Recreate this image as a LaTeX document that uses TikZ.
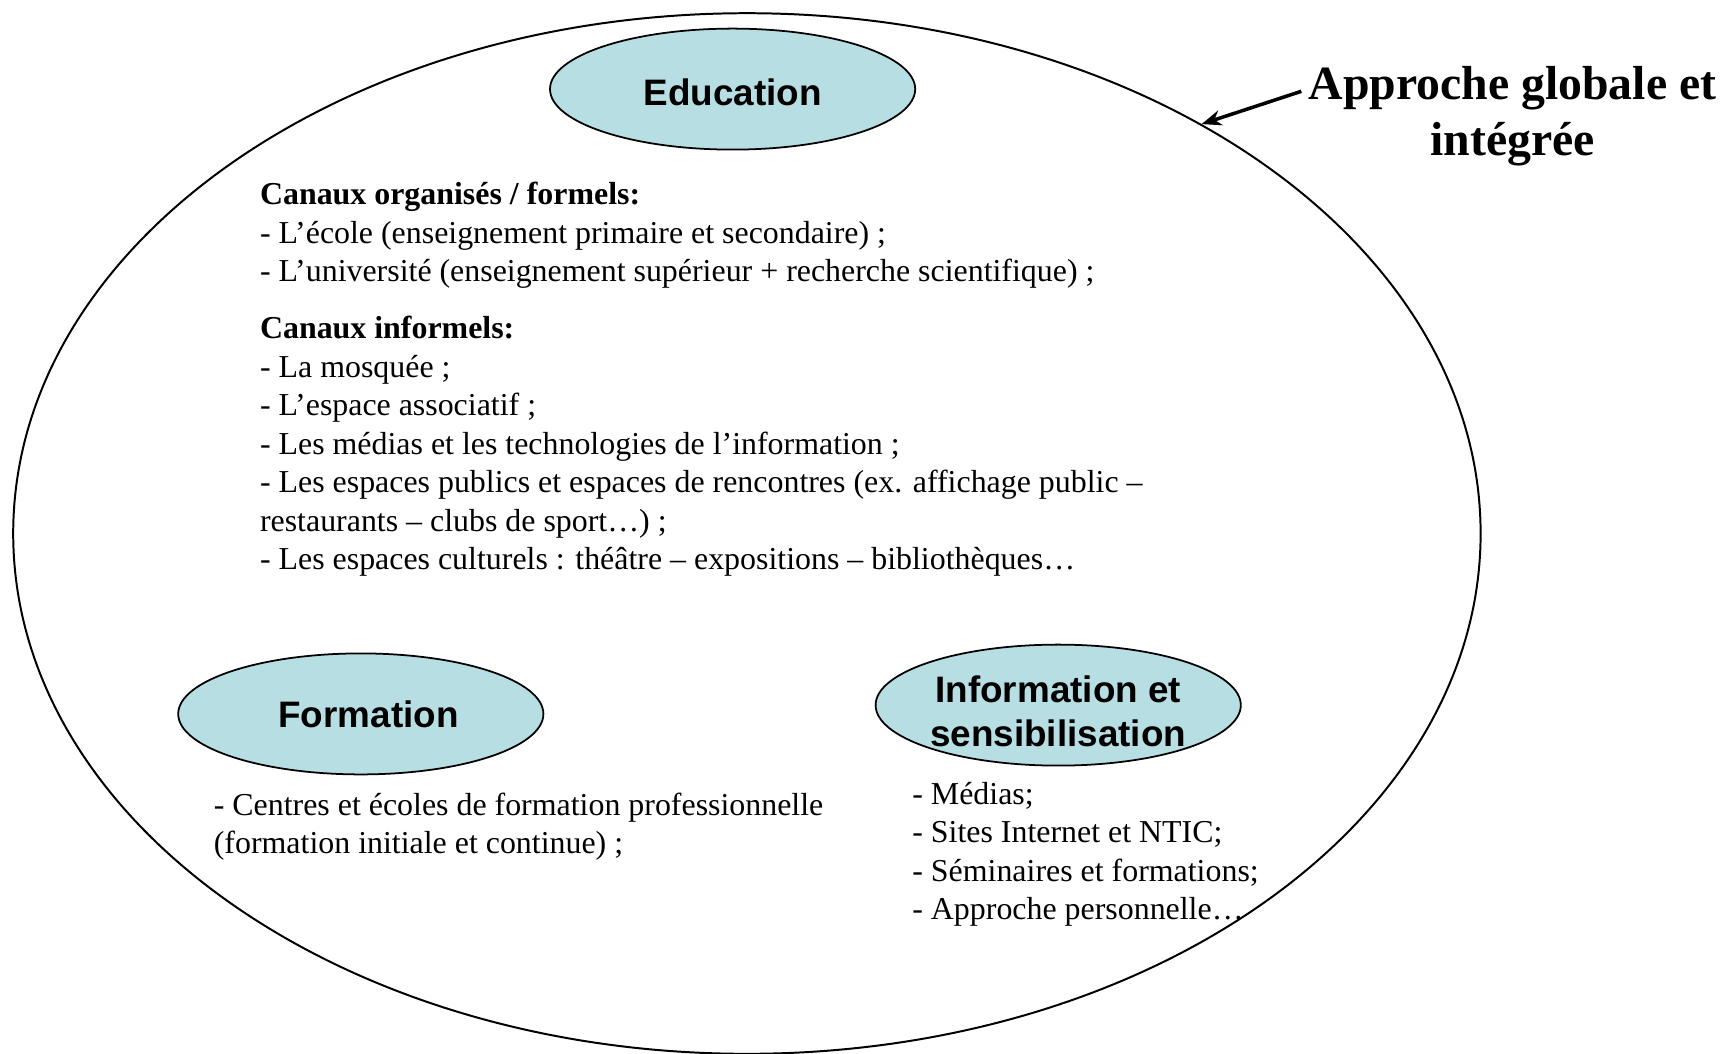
\documentclass[tikz,border=0pt]{standalone}
\usepackage{fontspec}
\setmainfont{Liberation Serif}
\newfontfamily\arialfont{Liberation Sans}
\usetikzlibrary{shapes.geometric,arrows.meta}
\definecolor{bubblefill}{RGB}{183,222,226}
\begin{document}
\begin{tikzpicture}[x=0.5pt,y=-0.5pt,
  outer/.style={draw, ellipse, line width=0.9pt, minimum width=667pt, minimum height=473pt, inner sep=0pt},
  bubble/.style={draw, ellipse, fill=bubblefill, line width=0.8pt, minimum width=166pt, minimum height=55pt, inner sep=0pt},
  btext/.style={font=\arialfont\bfseries\fontsize{16.75}{20}\selectfont, align=center, inner sep=0pt, anchor=base},
  body/.style={anchor=base west, inner sep=0pt, font=\fontsize{14.5}{17.5}\selectfont},
  bodyb/.style={anchor=base west, inner sep=0pt, font=\bfseries\fontsize{14.5}{17.5}\selectfont},
  titlestyle/.style={font=\bfseries\fontsize{21.7}{25.5}\selectfont, align=center, inner sep=0pt, anchor=base},
  pointer/.style={-{Stealth[length=9pt,width=7pt]}, line width=1.6pt},
]
\useasboundingbox (0,0) rectangle (1565.45,957.27);

% outer ellipse
\node[outer] (big) at (679,485) {};

% bubbles
\node[bubble] (edu) at (666,81) {};
\node[btext] (eduT) at (666,96) {Education};
\node[bubble] (form) at (328,649) {};
\node[btext] (formT) at (335,661) {Formation};
\node[bubble] (info) at (962,641) {};
\node[btext] (infoT) at (962,679) {Information et\\sensibilisation};

% Education text
\node[bodyb] (a1) at (236,186) {Canaux organisés / formels:};
\node[body] (a2) at (236,221) {- L’école (enseignement primaire et secondaire) ;};
\node[body] (a3) at (236,256) {- L’université (enseignement supérieur + recherche scientifique) ;};
\node[bodyb] (b1) at (236,308) {Canaux informels:};
\node[body] (b2) at (236,343) {- La mosquée ;};
\node[body] (b3) at (236,378) {- L’espace associatif ;};
\node[body] (b4) at (236,413) {- Les médias et les technologies de l’information ;};
\node[body] (b5) at (236,448) {- Les espaces publics et espaces de rencontres (ex. affichage public –};
\node[body] (b6) at (236,483) {restaurants – clubs de sport…) ;};
\node[body] (b7) at (236,518) {- Les espaces culturels : théâtre – expositions – bibliothèques…};

% Formation text
\node[body] (f1) at (194,741) {- Centres et écoles de formation professionnelle};
\node[body] (f2) at (194,776) {(formation initiale et continue) ;};

% Information text
\node[body] (i1) at (829,731) {- Médias;};
\node[body] (i2) at (829,766) {- Sites Internet et NTIC;};
\node[body] (i3) at (829,801) {- Séminaires et formations;};
\node[body] (i4) at (829,836) {- Approche personnelle…};

% title and arrow
\node[titlestyle] (title) at (1375,141) {Approche globale et\\intégrée};
\coordinate (tail) at (1183,83);
\draw[pointer] (tail) -- (big.42.7);
\end{tikzpicture}
\end{document}
